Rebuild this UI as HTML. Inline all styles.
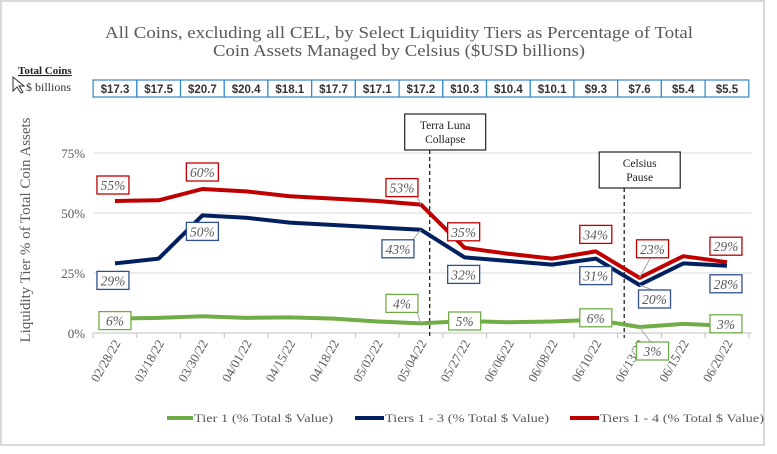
<!DOCTYPE html>
<html><head><meta charset="utf-8"><style>
body{margin:0;background:#fff;}
svg text{font-family:"Liberation Serif",serif;}
</style></head><body>
<svg id="c" width="777" height="449" xmlns="http://www.w3.org/2000/svg">
<rect x="1" y="1" width="763" height="444" fill="#fff" stroke="#d9d9d9" stroke-width="2"/>
<text x="399" y="38" text-anchor="middle" font-size="17" fill="#595959" textLength="588" lengthAdjust="spacingAndGlyphs">All Coins, excluding all CEL, by Select Liquidity Tiers as Percentage of Total</text>
<text x="399" y="56" text-anchor="middle" font-size="17" fill="#595959" textLength="372" lengthAdjust="spacingAndGlyphs">Coin Assets Managed by Celsius ($USD billions)</text>
<text x="18" y="74" font-size="11" font-weight="bold" fill="#222" text-decoration="underline">Total Coins</text>
<text x="26" y="91" font-size="12" fill="#333">$ billions</text>
<path d="M13 77 L13 91 L17 87 L21 93 L23 92 L19 86 L24 86 Z" fill="#fff" stroke="#333" stroke-width="1"/>
<g id="tbl"></g>
<g id="grid"></g>
<g id="marks"></g>
<g id="lbls"></g>
<text transform="translate(30,230) rotate(-90)" text-anchor="middle" font-size="15" fill="#595959" textLength="225" lengthAdjust="spacingAndGlyphs">Liquidity Tier % of Total Coin Assets</text>
<g>
<line x1="167" y1="418" x2="193" y2="418" stroke="#70ad47" stroke-width="4"/>
<text x="194" y="422" font-size="12" fill="#595959" textLength="139" lengthAdjust="spacingAndGlyphs">Tier 1 (% Total $ Value)</text>
<line x1="355" y1="418" x2="384" y2="418" stroke="#002060" stroke-width="4"/>
<text x="385" y="422" font-size="12" fill="#595959" textLength="164" lengthAdjust="spacingAndGlyphs">Tiers 1 - 3 (% Total $ Value)</text>
<line x1="570" y1="418" x2="599" y2="418" stroke="#c00000" stroke-width="4"/>
<text x="600" y="422" font-size="12" fill="#595959" textLength="164" lengthAdjust="spacingAndGlyphs">Tiers 1 - 4 (% Total $ Value)</text>
</g>
</svg>
<script>
const categories=["02/28/22","03/18/22","03/30/22","04/01/22","04/15/22","04/18/22","05/02/22","05/04/22","05/27/22","06/06/22","06/08/22","06/10/22","06/13/22","06/15/22","06/20/22"];
const totals=["$17.3","$17.5","$20.7","$20.4","$18.1","$17.7","$17.1","$17.2","$10.3","$10.4","$10.1","$9.3","$7.6","$5.4","$5.5"];
const tier1=[6,6.3,7,6.3,6.5,6,4.8,4,5,4.5,4.8,5.5,2.5,3.8,3];
const tier13=[29,31,49,48,46,45,44,43,31.5,30,28.5,31,20,29,28];
const tier14=[55,55.3,60,59,57,56,55,53.5,35.5,33,31,34,23,32,29.5];
const yTicks=[0,25,50,75];
const t1Labels=[[0,"6%"],[7,"4%"],[8,"5%"],[11,"6%"],[12,"3%"],[14,"3%"]];
const t13Labels=[[0,"29%"],[2,"50%"],[7,"43%"],[8,"32%"],[11,"31%"],[12,"20%"],[14,"28%"]];
const t14Labels=[[0,"55%"],[2,"60%"],[7,"53%"],[8,"35%"],[11,"34%"],[12,"23%"],[14,"29%"]];
const events=[[7.7,"Terra Luna","Collapse"],[12.15,"Celsius","Pause"]];

const NS="http://www.w3.org/2000/svg";
const X0=93.1,X1=748.8,Y0=333,PPV=2.4;
const bw=(X1-X0)/categories.length;
const xs=i=>X0+bw*(i+0.5);
const ys=v=>Y0-v*PPV;
function mk(tag,attrs,parent,txt){const e=document.createElementNS(NS,tag);for(const k in attrs)e.setAttribute(k,attrs[k]);if(txt!=null)e.textContent=txt;document.getElementById(parent).appendChild(e);return e;}

totals.forEach((t,i)=>{
  const r=mk("rect",{x:X0+bw*i,y:80,width:bw,height:17,fill:"#fff",stroke:"#2e86c9","stroke-width":1.2},"tbl");
  
  
  const tx=mk("text",{x:xs(i),y:93,"text-anchor":"middle","font-size":11.5,"font-weight":"bold",fill:"#333",style:"font-family:'Liberation Sans',sans-serif"},"tbl",t);
  
  
});
yTicks.forEach(v=>{
  const l=mk("line",{x1:X0,x2:X1+3,y1:ys(v),y2:ys(v),stroke:v===0?"#bfbfbf":"#d9d9d9","stroke-width":1},"grid");
  
  
  const t=mk("text",{x:X0-8,y:ys(v)+5,"text-anchor":"end","font-size":13,fill:"#595959"},"grid",v+"%");
  
  
});
categories.forEach((c,i)=>{
  const tk=mk("line",{x1:X0+bw*i,x2:X0+bw*i,y1:Y0,y2:Y0+5,stroke:"#bfbfbf"},"grid");
  
  
  const t=mk("text",{transform:`translate(${xs(i)+6},${Y0+10}) rotate(-60)`,"text-anchor":"end","font-size":13,fill:"#595959"},"grid",c);
  
  
});
mk("line",{x1:X1,x2:X1,y1:Y0,y2:Y0+5,stroke:"#bfbfbf"},"grid");
events.forEach(([p,a,b])=>{
  const x=X0+bw*p;
  const boxTop=a==="Celsius"?152:114, boxW=81, boxH=36;
  const l=mk("line",{x1:x,x2:x,y1:boxTop+boxH,y2:Y0+5,stroke:"#222","stroke-width":1.3,"stroke-dasharray":"4,3"},"marks");
  
  
  const r=mk("rect",{x:x-25,y:boxTop,width:boxW,height:boxH,fill:"#fff",stroke:"#222","stroke-width":1.2},"marks");
  
  
  const t1=mk("text",{x:x+15.5,y:boxTop+15,"text-anchor":"middle","font-size":11.5,fill:"#222"},"marks",a);
  
  
  const t2=mk("text",{x:x+15.5,y:boxTop+29,"text-anchor":"middle","font-size":11.5,fill:"#222"},"marks",b);
  
  
});
[[tier1,"#70ad47","tier1-line"],[tier13,"#002060","tiers1-3-line"],[tier14,"#c00000","tiers1-4-line"]].forEach(([d,col,n])=>{
  const p=mk("polyline",{points:d.map((v,i)=>xs(i)+","+ys(v)).join(" "),fill:"none",stroke:col,"stroke-width":4,"stroke-linejoin":"round"},"marks");
  
  
});
function labels(arr,data,col,offFn,name){
  arr.forEach(([i,t])=>{
    const [dx,dy]=offFn(i);
    const cx=xs(i)+dx, cy=ys(data[i])+dy;
    if(Math.abs(dx)>10){
      const ld=mk("line",{x1:cx+(dx<0?15:-2),y1:cy+(dy<0?9:-9),x2:xs(i),y2:ys(data[i]),stroke:"#a6a6a6","stroke-width":1},"lbls");
      
      
    }
    const r=mk("rect",{x:cx-16,y:cy-9,width:32,height:18,fill:"#fff",stroke:col,"stroke-width":1.3},"lbls");
    
    
    const tx=mk("text",{x:cx,y:cy+5,"text-anchor":"middle","font-size":13.5,"font-style":"italic",fill:"#595959"},"lbls",t);
    
    
  });
}
labels(t1Labels,tier1,"#70ad47",i=>({0:[0,2],7:[-19,-20],8:[0,0],11:[0,-2],12:[13,24],14:[-1,-2]})[i],"tier1-data-label");
labels(t13Labels,tier13,"#2f4f8f",i=>({0:[-2,17],2:[0,16],7:[-23,19],8:[-1,17],11:[0,17],12:[15,14],14:[-1,18]})[i],"tiers1-3-data-label");
labels(t14Labels,tier14,"#c00000",i=>({0:[-2,-16],2:[0,-17],7:[-19,-17],8:[-1,-16],11:[0,-17],12:[13,-29],14:[-1,-16]})[i],"tiers1-4-data-label");
</script>
</body></html>
